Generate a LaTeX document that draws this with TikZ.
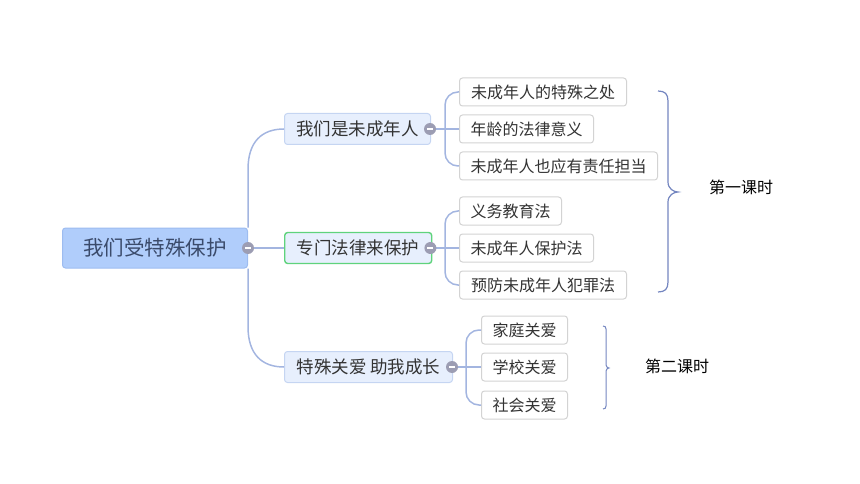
\documentclass[tikz,border=0pt]{standalone}
\usepackage{fontspec}
\setmainfont{Noto Sans CJK SC}
\usetikzlibrary{calc}
\definecolor{rootfill}{HTML}{B0CDFB}
\definecolor{rootline}{HTML}{9DBCF0}
\definecolor{rootText}{HTML}{3B4B6B}
\definecolor{brfill}{HTML}{E7EFFD}
\definecolor{brline}{HTML}{C5D5F2}
\definecolor{greenline}{HTML}{5FD37C}
\definecolor{leafline}{HTML}{D3D3D3}
\definecolor{txt}{HTML}{333333}
\definecolor{conncol}{HTML}{A3B5E0}
\definecolor{dotcol}{HTML}{9C9DB3}
\definecolor{bracecol}{HTML}{7486C0}
\begin{document}
\begin{tikzpicture}[x=1pt,y=-1pt,
  rootbox/.style={draw=rootline, fill=rootfill, rounded corners=3pt, line width=1pt,
    minimum width=185pt, minimum height=40pt, inner sep=0pt, anchor=west,
    font=\fontsize{20.5}{21}\selectfont, text=rootText},
  branchbox/.style={draw=brline, fill=brfill, rounded corners=3pt, line width=1pt,
    minimum height=31pt, inner sep=0pt, anchor=west,
    font=\fontsize{17.5}{18}\selectfont, text=txt},
  leafbox/.style={draw=leafline, fill=white, rounded corners=3pt, line width=1pt,
    minimum height=28pt, inner sep=0pt, anchor=west,
    font=\fontsize{16}{17}\selectfont, text=txt},
  conn/.style={draw=conncol, line width=1.5pt},
  foldmark/.style={circle, fill=dotcol, minimum size=12pt, inner sep=0pt,
    path picture={\draw[white, line width=1.6pt] ([xshift=-3pt]path picture bounding box.center) -- ([xshift=3pt]path picture bounding box.center);}},
  bracestyle/.style={draw=bracecol, line width=1.2pt},
  lessonlabel/.style={font=\fontsize{16}{17}\selectfont, text=black, inner sep=0pt}
]
\useasboundingbox (0,0) rectangle (860,484);

% root
\node[rootbox] (root) at (62,248) {我们受特殊保护};

% branches
\node[branchbox, minimum width=146pt] (b1) at (284,129) {我们是未成年人};
\node[branchbox, minimum width=147pt, draw=greenline, line width=1.4pt] (b2) at (284,248) {专门法律来保护};
\node[branchbox, minimum width=168pt] (b3) at (284,367) {特殊关爱 助我成长};

% leaves group 1
\node[leafbox, minimum width=167pt] (l1) at (459,92) {未成年人的特殊之处};
\node[leafbox, minimum width=134pt] (l2) at (459,129) {年龄的法律意义};
\node[leafbox, minimum width=198pt] (l3) at (459,166) {未成年人也应有责任担当};
% leaves group 2
\node[leafbox, minimum width=102pt] (l4) at (459,211) {义务教育法};
\node[leafbox, minimum width=134pt] (l5) at (459,248) {未成年人保护法};
\node[leafbox, minimum width=167pt] (l6) at (459,285) {预防未成年人犯罪法};
% leaves group 3
\node[leafbox, minimum width=86pt] (l7) at (481,330) {家庭关爱};
\node[leafbox, minimum width=86pt] (l8) at (481,367) {学校关爱};
\node[leafbox, minimum width=86pt] (l9) at (481,405) {社会关爱};

% connectors root -> branches
\draw[conn] (root.north east) -- ++(0,-58) .. controls +(0,-28) and +(-22,0) .. (b1.west);
\draw[conn] (root.east) -- (b2.west);
\draw[conn] (root.south east) -- ++(0,58) .. controls +(0,28) and +(-22,0) .. (b3.west);

% connectors branches -> leaves
\draw[conn] (b1.east) -- (l2.west);
\draw[conn, rounded corners=13pt] (l1.west) -- ++(-14,0) -- ($(l3.west)+(-14,0)$) -- (l3.west);
\draw[conn] (b2.east) -- (l5.west);
\draw[conn, rounded corners=13pt] (l4.west) -- ++(-14,0) -- ($(l6.west)+(-14,0)$) -- (l6.west);
\draw[conn] (b3.east) -- (l8.west);
\draw[conn, rounded corners=13pt] (l7.west) -- ++(-15,0) -- ($(l9.west)+(-15,0)$) -- (l9.west);

% fold marks
\node[foldmark] (f0) at (root.east) {};
\node[foldmark] (f1) at ([xshift=-1pt]b1.east) {};
\node[foldmark] (f2) at ([xshift=-2pt]b2.east) {};
\node[foldmark] (f3) at ([xshift=-1pt]b3.east) {};

% brace 1
\coordinate (ba) at (658,91);
\coordinate (bb) at (668,192);
\coordinate (bc) at (658,292);
\draw[bracestyle] (ba) .. controls +(7,0) and +(0,-7) .. ($(ba)+(10,10)$)
  -- ($(bb)+(0,-10)$) .. controls +(0,7) and +(-4,0) .. ($(bb)+(10,0)$)
  .. controls +(-4,0) and +(0,-7) .. ($(bb)+(0,10)$)
  -- ($(bc)+(10,-10)$) .. controls +(0,7) and +(7,0) .. (bc);
\node[lessonlabel] (k1) at (741,187) {第一课时};

% brace 2
\coordinate (ca) at (603,326);
\coordinate (cb) at (606,368);
\coordinate (cc) at (603,409);
\draw[bracestyle, line width=1pt] (ca) .. controls +(2,0) and +(0,-2) .. ($(ca)+(3,3)$)
  -- ($(cb)+(0,-3)$) .. controls +(0,2) and +(-1,0) .. ($(cb)+(3,0)$)
  .. controls +(-1,0) and +(0,-2) .. ($(cb)+(0,3)$)
  -- ($(cc)+(3,-3)$) .. controls +(0,2) and +(2,0) .. (cc);
\node[lessonlabel] (k2) at (677,366) {第二课时};
\end{tikzpicture}
\end{document}
